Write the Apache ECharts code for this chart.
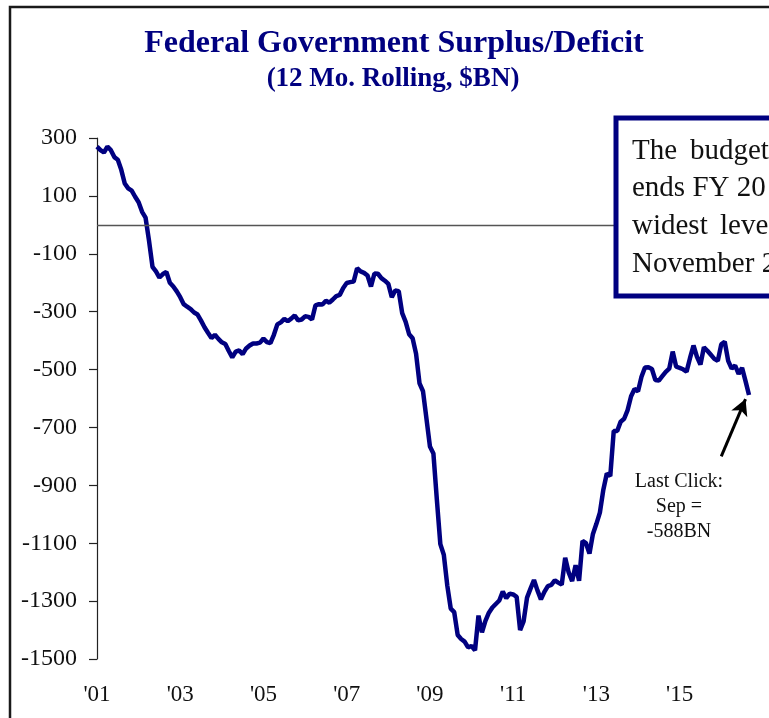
<!DOCTYPE html>
<html>
<head>
<meta charset="utf-8">
<title>Federal Government Surplus/Deficit</title>
<script src="https://cdn.jsdelivr.net/npm/echarts@6/dist/echarts.min.js"></script>
<style>
  html, body { margin: 0; padding: 0; background: #ffffff; }
  #chart { width: 769px; height: 718px; }
</style>
</head>
<body>
<div id="chart"></div>
<script>
// Monthly categories, Jan 2001 .. Sep 2016
const startYear = 2001;
const monthCount = 189;
const categories = [];
for (let i = 0; i < monthCount; i++) {
  const y = startYear + Math.floor(i / 12);
  const m = (i % 12) + 1;
  categories.push(y + '-' + (m < 10 ? '0' + m : m));
}

// 12-month rolling federal surplus (+) / deficit (-), $BN
const deficit = [
  270, 258, 250, 270, 258, 234, 225, 190, 143, 126, 118, 97,
  78, 45, 25, -55, -145, -161, -182, -170, -163, -200, -213, -230,
  -250, -274, -283, -291, -303, -310, -331, -354, -373, -391, -380, -394,
  -406, -412, -436, -458, -438, -434, -447, -427, -417, -410, -410, -407,
  -393, -405, -409, -380, -344, -337, -325, -333, -324, -313, -330, -327,
  -316, -318, -327, -278, -274, -275, -262, -269, -258, -246, -242, -218,
  -201, -198, -196, -150, -161, -166, -175, -213, -168, -169, -184, -193,
  -204, -250, -227, -229, -305, -335, -378, -392, -445, -548, -575, -670,
  -766, -790, -950, -1103, -1140, -1246, -1326, -1338, -1417, -1431, -1440, -1460,
  -1455, -1470, -1350, -1408, -1368, -1340, -1322, -1310, -1298, -1267, -1290, -1274,
  -1277, -1285, -1400, -1370, -1288, -1257, -1227, -1263, -1294, -1268, -1248, -1244,
  -1228, -1236, -1243, -1150, -1201, -1231, -1176, -1230, -1092, -1100, -1136, -1068,
  -1033, -994, -915, -859, -868, -712, -712, -680, -670, -640, -592, -567,
  -575, -525, -493, -492, -498, -536, -538, -523, -508, -497, -438, -490,
  -494, -499, -507, -460, -417, -456, -483, -423, -435, -449, -463, -470,
  -413, -404, -470, -497, -486, -515, -494, -540, -588
];

// Y-axis range and step
const yMin = -1500;
const yMax = 300;
const yStep = 200;

// Text box and callout text
const noteLines = [
  ['The', 'budget'],
  ['ends FY 20'],
  ['widest', 'leve'],
  ['November 2']
];
const calloutLines = ['Last Click:', 'Sep =', '-588BN'];

const NAVY = '#000080';
const SERIF = '"Liberation Serif", "DejaVu Serif", serif';

const chart = echarts.init(document.getElementById('chart'), null, { renderer: 'canvas' });

const lastIdx = deficit.length - 1;

const graphics = [
  // outer frame
  {
    type: 'rect', z: 100, silent: true,
    shape: { x: 10, y: 7, width: 900, height: 900 },
    style: { fill: 'none', stroke: '#1a1a1a', lineWidth: 2.5 }
  },
  {
    type: 'text', z: 100, x: 394, y: 44,
    style: { text: 'Federal Government Surplus/Deficit', fill: NAVY,
             align: 'center', verticalAlign: 'middle',
             font: 'bold 32px ' + SERIF }
  },
  {
    type: 'text', z: 100, x: 393, y: 79,
    style: { text: '(12 Mo. Rolling, $BN)', fill: NAVY,
             align: 'center', verticalAlign: 'middle',
             font: 'bold 27px ' + SERIF }
  },
  // note box
  {
    type: 'rect', z: 100, silent: true,
    shape: { x: 616, y: 118, width: 300, height: 178 },
    style: { fill: '#ffffff', stroke: NAVY, lineWidth: 5 }
  },
  {
    type: 'text', z: 101, x: 632, y: 137,
    style: { text: noteLines[0][0], fill: '#111', font: '29px ' + SERIF }
  },
  {
    type: 'text', z: 101, x: 690, y: 137,
    style: { text: noteLines[0][1], fill: '#111', font: '29px ' + SERIF }
  },
  {
    type: 'text', z: 101, x: 632, y: 174,
    style: { text: noteLines[1][0], fill: '#111', font: '29px ' + SERIF }
  },
  {
    type: 'text', z: 101, x: 632, y: 212,
    style: { text: noteLines[2][0], fill: '#111', font: '29px ' + SERIF }
  },
  {
    type: 'text', z: 101, x: 720, y: 212,
    style: { text: noteLines[2][1], fill: '#111', font: '29px ' + SERIF }
  },
  {
    type: 'text', z: 101, x: 632, y: 250,
    style: { text: noteLines[3][0], fill: '#111', font: '29px ' + SERIF }
  },
  // callout
  {
    type: 'text', z: 100, x: 679, y: 469,
    style: { text: calloutLines.join('\n'), fill: '#111', align: 'center',
             lineHeight: 25, font: '20px ' + SERIF }
  }
];

chart.setOption({
  animation: false,
  backgroundColor: '#ffffff',
  grid: { left: 97, right: 20, top: 138, bottom: 59, containLabel: false },
  xAxis: {
    type: 'category',
    data: categories,
    boundaryGap: false,
    axisLine: { show: false },
    axisTick: { show: false },
    splitLine: { show: false },
    axisLabel: {
      interval: 23,
      margin: 24,
      color: '#111',
      fontFamily: SERIF,
      fontSize: 23,
      formatter: function (v) { return "'" + v.slice(2, 4); }
    }
  },
  yAxis: {
    type: 'value',
    min: yMin,
    max: yMax,
    interval: yStep,
    axisLine: { show: true, lineStyle: { color: '#222', width: 1.2 } },
    axisTick: { show: true, length: 8, lineStyle: { color: '#222', width: 1.2 } },
    splitLine: { show: false },
    axisLabel: {
      margin: 20,
      color: '#111',
      fontFamily: SERIF,
      fontSize: 24,
      formatter: function (v) { return String(v); }
    }
  },
  series: [
    {
      type: 'line',
      data: deficit,
      showSymbol: false,
      smooth: false,
      lineStyle: { color: NAVY, width: 4.5 },
      z: 3,
      markLine: {
        silent: true,
        symbol: ['none', 'none'],
        label: { show: false },
        lineStyle: { color: '#555', width: 1.3, type: 'solid' },
        data: [{ yAxis: 0 }]
      }
    },
    {
      // callout arrow pointing at the latest reading
      type: 'line',
      data: [],
      markLine: {
        silent: true,
        symbol: ['none', 'arrow'],
        symbolSize: [13, 16],
        label: { show: false },
        lineStyle: { color: '#000', width: 3, type: 'solid' },
        data: [[
          { coord: [categories[lastIdx - 8], -800] },
          { coord: [categories[lastIdx - 1], deficit[lastIdx] - 14] }
        ]]
      }
    }
  ],
  graphic: graphics
});
</script>
</body>
</html>
